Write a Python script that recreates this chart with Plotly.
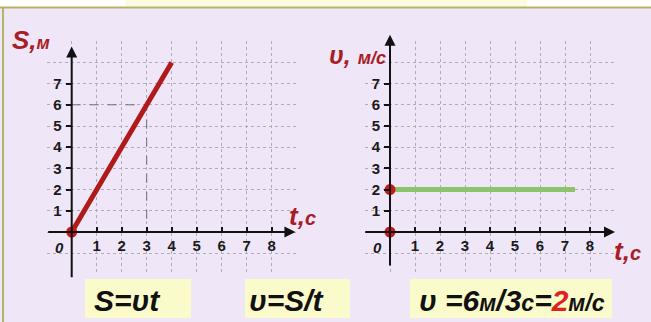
import plotly.graph_objects as go

# ---------------- data ----------------
t_dist = [0, 4]          # time, s (distance graph)
s_dist = [0, 8]          # distance, m
t_vel = [0, 7.4]         # time, s (velocity graph)
v_vel = [2, 2]           # velocity, m/s
proj_t = [0, 3, 3]       # projection of point (3 s, 6 m)
proj_s = [6, 6, 0]
dots_left_t = [0]
dots_left_s = [0]
dots_right_t = [0, 0]
dots_right_v = [0, 2]
x_tick_vals = [1, 2, 3, 4, 5, 6, 7, 8]
y_tick_vals = [1, 2, 3, 4, 5, 6, 7]

W, H = 651, 322
BG = "#efe7f8"
DARKRED = "#a81e28"
FONT = "Liberation Sans, Arial, sans-serif"


def px(x):
    return x / W


def py(y):
    return 1 - y / H


fig = go.Figure()

# distance graph
fig.add_trace(go.Scatter(x=proj_t, y=proj_s, mode="lines",
                         line=dict(color="#6e6e78", width=1, dash="dash"),
                         xaxis="x", yaxis="y", hoverinfo="skip"))
fig.add_trace(go.Scatter(x=t_dist, y=s_dist, mode="lines",
                         line=dict(color="#b01a1a", width=5),
                         xaxis="x", yaxis="y"))
fig.add_trace(go.Scatter(x=dots_left_t, y=dots_left_s, mode="markers",
                         marker=dict(color="#c41a1a", size=11),
                         xaxis="x", yaxis="y"))
# velocity graph
fig.add_trace(go.Scatter(x=t_vel, y=v_vel, mode="lines",
                         line=dict(color="#8dc46b", width=5),
                         xaxis="x2", yaxis="y2"))
fig.add_trace(go.Scatter(x=dots_right_t, y=dots_right_v, mode="markers",
                         marker=dict(color="#c41a1a", size=11),
                         xaxis="x2", yaxis="y2"))

# axis geometry (pixels)
XR = [-1.0, 9.0]
YR = [-2.0, 9.0]
UX = 25.0     # px per second
UY = 21.2     # px per unit
y0_pix = 232.0
ybot = y0_pix - YR[0] * UY
ytop = y0_pix - YR[1] * UY

GRIDC = "#b2abbb"
grid = dict(showgrid=True, gridcolor=GRIDC, gridwidth=1, griddash="dot")
minor = dict(dtick=1, tick0=0, showgrid=True, gridcolor=GRIDC,
             gridwidth=1, griddash="dot", ticks="")
tickfont = dict(family=FONT, size=15, color="#1a1a1a", weight="bold")


def xaxis_cfg(left_pix):
    return dict(range=XR, domain=[px(left_pix), px(left_pix + UX * (XR[1] - XR[0]))],
                anchor="free", position=py(y0_pix),
                tickmode="array", tickvals=x_tick_vals,
                ticks="inside", ticklen=5, tickwidth=2, tickcolor="#111",
                tickfont=tickfont, ticklabelstandoff=3,
                showline=False, zeroline=False, minor=minor, **grid)


def yaxis_cfg(axis_pix):
    return dict(range=YR, domain=[py(ybot), py(ytop)],
                anchor="free", position=px(axis_pix),
                tickmode="array", tickvals=y_tick_vals,
                ticks="outside", ticklen=6, tickwidth=2, tickcolor="#111",
                tickfont=tickfont, ticklabelstandoff=1,
                showline=False, zeroline=False, minor=minor, **grid)


LEFT0 = 71.7
RIGHT0 = 390.0
fig.update_layout(
    xaxis=xaxis_cfg(LEFT0 - UX),
    yaxis=yaxis_cfg(LEFT0),
    xaxis2=xaxis_cfg(RIGHT0 - UX),
    yaxis2=yaxis_cfg(RIGHT0),
)

ann = []
# axis arrows
for xr, yr, ytail, ytip, xtail, xtip in [("x", "y", -2.2, 8.75, -1.0, 8.95),
                                          ("x2", "y2", -1.65, 9.3, -1.05, 9.0)]:
    ann.append(dict(x=0, y=ytip, ax=0, ay=ytail, xref=xr, yref=yr, axref=xr, ayref=yr,
                    text="", showarrow=True, arrowhead=2, arrowsize=1.1,
                    arrowwidth=2, arrowcolor="#111"))
    ann.append(dict(x=xtip, y=0, ax=xtail, ay=0, xref=xr, yref=yr, axref=xr, ayref=yr,
                    text="", showarrow=True, arrowhead=2, arrowsize=1.1,
                    arrowwidth=2, arrowcolor="#111"))
    ann.append(dict(x=-0.5, y=-0.75, xref=xr, yref=yr, text="<i>0</i>", showarrow=False,
                    xanchor="center", yanchor="middle",
                    font=dict(family=FONT, size=15, color="#1a1a1a", weight="bold")))


def label(x, y, text, font):
    ann.append(dict(x=px(x), y=py(y), xref="paper", yref="paper", showarrow=False,
                    xanchor="center", yanchor="middle", text=text, font=font))


# axis titles
label(31, 40, "<b><i>S,<span style='font-size:18px'>м</span></i></b>",
      dict(family=FONT, size=26, color=DARKRED))
label(357, 55, "<b><i>υ, <span style='font-size:18px'>м/с</span></i></b>",
      dict(family=FONT, size=25, color=DARKRED))
label(302, 216, "<b><i>t,<span style='font-size:20px'>с</span></i></b>",
      dict(family=FONT, size=26, color=DARKRED))
label(627, 251, "<b><i>t,<span style='font-size:20px'>с</span></i></b>",
      dict(family=FONT, size=26, color=DARKRED))

# formulas
ffont = dict(family=FONT, size=30, color="#111")
label(127, 300, "<b><i>S=υt</i></b>", ffont)
label(287, 300, "<b><i>υ=S/t</i></b>", ffont)
label(512, 300,
      "<b><i>υ =6<span style='font-size:23px'>м</span>/3<span style='font-size:23px'>с</span>="
      "<span style='color:#e0201c'>2</span><span style='font-size:23px'>м/с</span></i></b>",
      ffont)

shapes = [
    dict(type="rect", xref="paper", yref="paper", x0=0, x1=1, y0=py(7), y1=1,
         fillcolor="white", line=dict(width=0), layer="below"),
    dict(type="rect", xref="paper", yref="paper", x0=px(125), x1=px(527), y0=py(7), y1=1,
         fillcolor="#fbfbe2", line=dict(width=0), layer="below"),
    dict(type="line", xref="paper", yref="paper", x0=0, x1=1, y0=py(7.5), y1=py(7.5),
         line=dict(color="#b3b36a", width=2)),
    dict(type="line", xref="paper", yref="paper", x0=px(3), x1=px(3), y0=py(7.5), y1=0,
         line=dict(color="#b3b36a", width=2)),
]
for x0, x1 in [(85, 191), (245, 350), (410, 612)]:
    shapes.append(dict(type="rect", xref="paper", yref="paper", x0=px(x0), x1=px(x1),
                       y0=py(318), y1=py(279), fillcolor="#fafacb",
                       line=dict(width=0), layer="below"))

fig.update_layout(
    width=W, height=H, margin=dict(l=0, r=0, t=0, b=0),
    paper_bgcolor=BG, plot_bgcolor=BG, showlegend=False,
    annotations=ann, shapes=shapes,
)

fig.write_html("out.html", config={"displayModeBar": False},
               post_script="document.body.style.margin='0';document.body.style.overflow='hidden';")
